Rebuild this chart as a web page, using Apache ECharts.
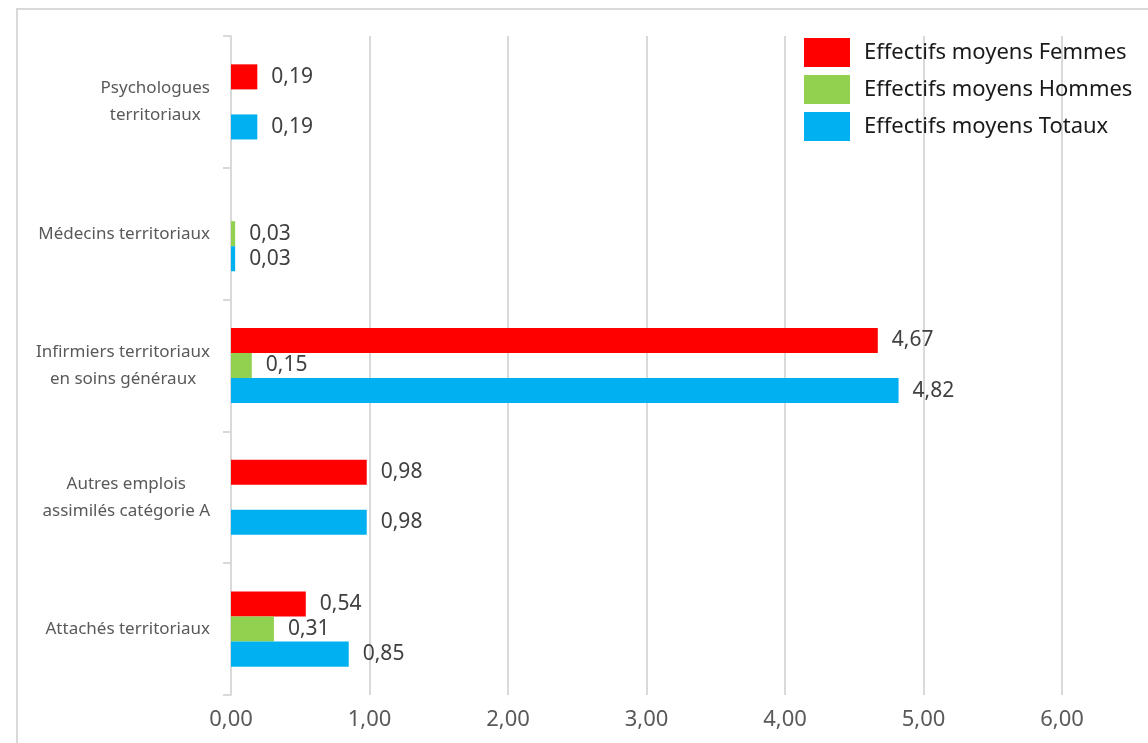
<!DOCTYPE html>
<html>
<head>
<meta charset="utf-8">
<script src="https://cdn.jsdelivr.net/npm/echarts@6/dist/echarts.min.js"></script>
<style>
  html, body { margin: 0; padding: 0; background: #fff; }
  #chart { width: 1148px; height: 743px; }
</style>
</head>
<body>
<div id="chart"></div>
<script>
// categories, bottom to top as drawn
const categories = [
  'Attachés territoriaux',
  'Autres emplois\nassimilés catégorie A',
  'Infirmiers territoriaux\nen soins généraux',
  'Médecins territoriaux',
  'Psychologues\nterritoriaux'
];
const femmes = [0.54, 0.98, 4.67, null, 0.19];
const hommes = [0.31, null, 0.15, 0.03, null];
const totaux = [0.85, 0.98, 4.82, 0.03, 0.19];
const seriesNames = ['Effectifs moyens Femmes', 'Effectifs moyens Hommes', 'Effectifs moyens Totaux'];
const colors = ['#ff0000', '#92d050', '#00b0f0'];

const fmt = v => v.toFixed(2).replace('.', ',');
const font = '"Noto Sans", sans-serif';

const chart = echarts.init(document.getElementById('chart'));

const seriesData = [femmes, hommes, totaux];
const series = seriesData.map((d, i) => ({
  name: seriesNames[i],
  type: 'bar',
  data: d,
  barGap: '0%',
  barCategoryGap: '43%',
  itemStyle: { color: colors[i] },
  label: {
    show: true,
    position: 'right',
    distance: 14,
    color: '#404040',
    fontSize: 21,
    fontFamily: font,
    formatter: p => fmt(p.value)
  }
}));

chart.setOption({
  animation: false,
  textStyle: { fontFamily: font },
  graphic: [{
    type: 'rect',
    shape: { x: 17, y: 9, width: 1200, height: 800 },
    style: { fill: 'none', stroke: '#d9d9d9', lineWidth: 2 },
    silent: true
  }],
  legend: {
    orient: 'vertical',
    left: 799,
    top: 33,
    itemWidth: 46,
    itemHeight: 29,
    itemGap: 8,
    icon: 'rect',
    textStyle: { fontSize: 22, color: '#1a1a1a', fontFamily: font, padding: [0, 0, 0, 9] },
    data: seriesNames
  },
  grid: { left: 231, right: 86, top: 36, bottom: 48 },
  xAxis: {
    type: 'value',
    min: 0,
    max: 6,
    interval: 1,
    axisLine: { show: false },
    axisTick: { show: false },
    splitLine: { lineStyle: { color: '#d9d9d9', width: 2 } },
    axisLabel: {
      formatter: v => fmt(v),
      color: '#595959',
      fontSize: 22,
      margin: 14,
      fontFamily: font
    }
  },
  yAxis: {
    type: 'category',
    data: categories,
    axisLine: { lineStyle: { color: '#d9d9d9', width: 2 } },
    axisTick: { show: true, length: 8, lineStyle: { color: '#d9d9d9', width: 2 } },
    axisLabel: {
      margin: 21,
      align: 'right',
      // each line centred inside the label block
      formatter: v => v.split('\n').map(s => '{c|' + s + '}').join('\n'),
      rich: {
        c: {
          align: 'center',
          color: '#595959',
          fontSize: 17,
          lineHeight: 27,
          fontFamily: font
        }
      }
    }
  },
  series: series
});
</script>
</body>
</html>
